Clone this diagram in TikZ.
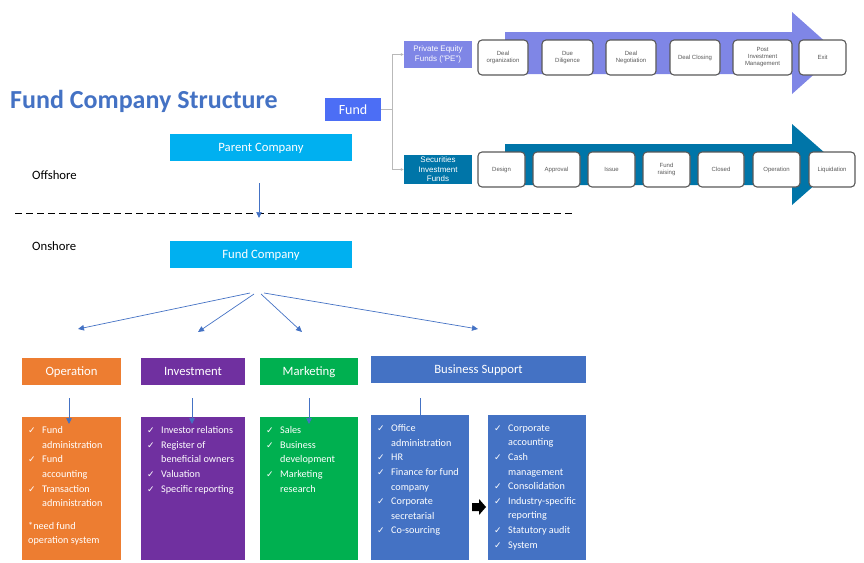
\documentclass[tikz,border=0pt]{standalone}
\usepackage{fontspec}
\setmainfont{Carlito}
\newfontfamily\arialf{Liberation Sans}
\newfontfamily\symf{DejaVu Sans}
\usepackage{tikz}
\usetikzlibrary{positioning,arrows.meta,calc}
\definecolor{ttlblue}{RGB}{68,114,196}
\definecolor{fundblue}{RGB}{76,110,245}
\definecolor{cyanbox}{RGB}{0,176,240}
\definecolor{peblue}{RGB}{127,134,230}
\definecolor{sifblue}{RGB}{0,117,168}
\definecolor{opor}{RGB}{237,125,49}
\definecolor{invpu}{RGB}{112,48,160}
\definecolor{mkgr}{RGB}{0,176,80}
\definecolor{stepgray}{RGB}{89,89,89}
\newcommand{\chk}[1]{\par\hangindent=14pt\hangafter=1\noindent\makebox[14pt][l]{\symf\fontsize{9}{9}\selectfont ✓}#1\par}
\tikzset{
  hdr/.style={fill=cyanbox,text=white,minimum width=182pt,minimum height=27pt,inner sep=0pt,text height=8pt,text depth=0pt,font=\fontsize{12.7}{14}\selectfont},
  dept/.style={text=white,minimum height=27pt,inner sep=0pt,text height=8pt,text depth=0pt,font=\fontsize{12.7}{14}\selectfont},
  det/.style={text=white,anchor=north west,inner xsep=6pt,inner ysep=9.5pt,font=\fontsize{10.2}{14.6}\selectfont},
  stp/.style={draw=stepgray,line width=1.1pt,fill=white,rounded corners=4pt,inner sep=0pt,minimum height=35pt,align=center,text=stepgray,font=\arialf\fontsize{6}{7}\selectfont},
  arr/.style={-{Triangle[length=6pt,width=5.5pt]},draw=ttlblue,line width=0.7pt},
  conn/.style={-{Triangle[length=3pt,width=2.5pt]},draw=gray!55,line width=0.6pt},
}
\begin{document}
\begin{tikzpicture}[x=1pt,y=-1pt]
  \useasboundingbox (0,0) rectangle (864,562);
  \node[anchor=west,text=ttlblue,font=\bfseries\fontsize{26}{30}\selectfont,inner sep=0pt] (title) at (10,101) {Fund Company Structure};
  % fund types
  \node[fill=fundblue,text=white,minimum width=56pt,minimum height=23pt,inner sep=0pt,font=\fontsize{14}{16}\selectfont] (fund) at (353,109.5) {Fund};
  \fill[peblue] (505,32) -- (792,32) -- (792,12) -- (838,53) -- (792,94) -- (792,74) -- (505,74) -- cycle;
  \fill[sifblue] (505,144) -- (792,144) -- (792,124) -- (838,164.5) -- (792,205) -- (792,185) -- (505,185) -- cycle;
  \node[fill=peblue,text=white,minimum width=68pt,minimum height=27pt,inner sep=0pt,align=center,font=\arialf\fontsize{8}{9.6}\selectfont] (pe) at (438,54.5) {Private Equity\\Funds ("PE")};
  \node[fill=sifblue,text=white,minimum width=68pt,minimum height=29pt,inner sep=0pt,align=center,font=\arialf\fontsize{8}{9.4}\selectfont] (sif) at (438,169.5) {Securities\\Investment\\Funds};
  \draw[conn] (fund.east) -- ++(11,0) |- (pe.west);
  \draw[conn] (fund.east) -- ++(11,0) |- (sif.west);
  \foreach \i/\x/\w/\t in {1/503/50/{Deal\\organization},2/567.5/51/{Due\\Diligence},3/631/50/{Deal\\Negotiation},
      4/695/50/{Deal Closing},5/762.5/59/{Post\\Investment\\Management},6/822.5/47/{Exit}}
    \node[stp,minimum width=\w] (pe\i) at (\x,57.5) {\t};
  \foreach \i/\x/\w/\t in {1/501.5/47/{Design},2/556.5/47/{Approval},3/611.5/47/{Issue},4/666.5/47/{Fund\\raising},
      5/721/46/{Closed},6/776.5/47/{Operation},7/832/46/{Liquidation}}
    \node[stp,minimum width=\w] (sif\i) at (\x,169.5) {\t};
  % offshore / onshore
  \node[hdr] (parent) at (261,147.5) {Parent Company};
  \node[anchor=west,inner sep=0pt,font=\fontsize{12.7}{14}\selectfont] (off) at (32,175) {Offshore};
  \coordinate (dl1) at (15,213); \coordinate (dl2) at (575,213);
  \draw[line width=0.8pt,dash pattern=on 7pt off 4pt] (dl1) -- (dl2);
  \coordinate (pa1) at (259,183); \coordinate (pa2) at (259,218);
  \draw[arr] (pa1) -- (pa2);
  \node[anchor=west,inner sep=0pt,font=\fontsize{12.7}{14}\selectfont] (on) at (32,246) {Onshore};
  \node[hdr] (fundco) at (261,254.5) {Fund Company};
  \foreach \i/\sx/\sy/\ex/\ey in {1/250/293/78/329,2/254/294/198/332,3/261/294/302/332,4/264/293/478/329} {
    \coordinate (fs\i) at (\sx,\sy); \coordinate (fe\i) at (\ex,\ey);
    \draw[arr] (fs\i) -- (fe\i);
  }
  % departments
  \node[dept,fill=opor,minimum width=99pt] (op) at (71.5,371.5) {Operation};
  \node[dept,fill=invpu,minimum width=104pt] (inv) at (193,371.5) {Investment};
  \node[dept,fill=mkgr,minimum width=98pt] (mk) at (309,371.5) {Marketing};
  \node[dept,fill=ttlblue,minimum width=215pt] (bs) at (478.5,369.5) {Business Support};
  \node[det,fill=opor] (opd) at (22,417) {\parbox[t][124pt][t]{87pt}{%
    \chk{Fund\\administration}\chk{Fund\\accounting}\chk{Transaction\\administration}\vspace{8pt}%
    \noindent*need fund\\operation system}};
  \node[det,fill=invpu] (invd) at (141,417) {\parbox[t][124pt][t]{92pt}{%
    \chk{Investor relations}\chk{Register of\\beneficial owners}\chk{Valuation}\chk{Specific reporting}}};
  \node[det,fill=mkgr] (mkd) at (260,417) {\parbox[t][124pt][t]{86pt}{%
    \chk{Sales}\chk{Business\\development}\chk{Marketing\\research}}};
  \node[det,fill=ttlblue] (bsl) at (371,415) {\parbox[t][126pt][t]{86pt}{%
    \chk{Office\\administration}\chk{HR}\chk{Finance for fund\\company}\chk{Corporate\\secretarial}\chk{Co-sourcing}}};
  \node[det,fill=ttlblue] (bsr) at (488,415) {\parbox[t][126pt][t]{86pt}{%
    \chk{Corporate\\accounting}\chk{Cash\\management}\chk{Consolidation}\chk{Industry-specific\\reporting}\chk{Statutory audit}\chk{System}}};
  \foreach \i/\x in {1/69,2/192,3/309} {
    \coordinate (ds\i) at (\x,398); \coordinate (de\i) at (\x,424);
    \draw[arr] (ds\i) -- (de\i);
  }
  \coordinate (bsc) at (420,398);
  \draw[ttlblue,line width=0.7pt] (bsc) -- (bsc |- bsl.north);
  \fill (472,503) -- (479,503) -- (479,499) -- (486,507) -- (479,515) -- (479,511) -- (472,511) -- cycle;
\end{tikzpicture}
\end{document}
